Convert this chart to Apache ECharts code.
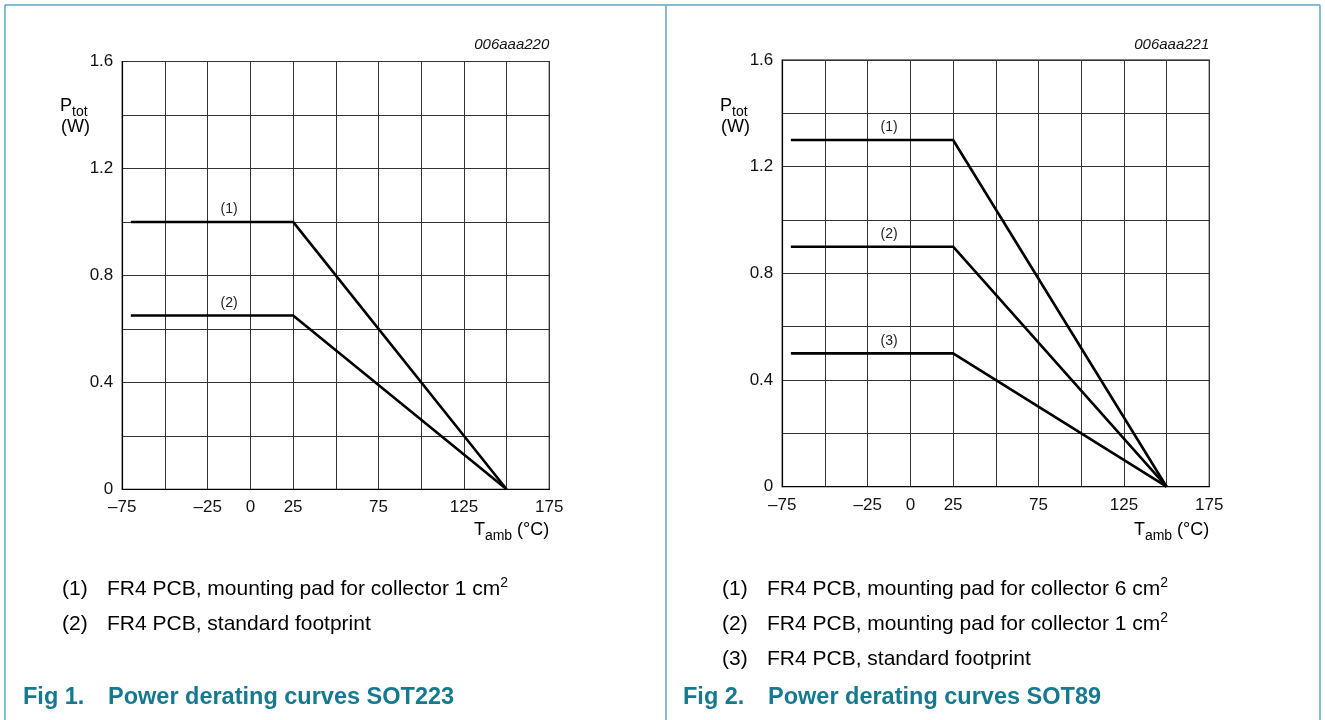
<!DOCTYPE html>
<html><head><meta charset="utf-8">
<script src="https://cdn.jsdelivr.net/npm/echarts/dist/echarts.min.js"></script>
<style>html,body{margin:0;padding:0;background:#fff}#c{width:1325px;height:720px}</style>
</head><body><div id="c"></div>
<script>
// ---- data ----
const temperatures = [-70, 25, 150];            // T_amb (°C)
const sot223Curve1 = [1.0, 1.0, 0];             // P_tot (W)
const sot223Curve2 = [0.65, 0.65, 0];
const sot89Curve1 = [1.3, 1.3, 0];
const sot89Curve2 = [0.9, 0.9, 0];
const sot89Curve3 = [0.5, 0.5, 0];
const xTickLabels = [-75, -25, 0, 25, 75, 125, 175];
const yTickLabels = [0, 0.4, 0.8, 1.2, 1.6];
const sot223Names = ['(1)', '(2)'];
const sot89Names = ['(1)', '(2)', '(3)'];
const sot223Legend = ['FR4 PCB, mounting pad for collector 1 cm', 'FR4 PCB, standard footprint'];
const sot89Legend = ['FR4 PCB, mounting pad for collector 6 cm', 'FR4 PCB, mounting pad for collector 1 cm', 'FR4 PCB, standard footprint'];
const sot223Sup = ['2', ''];
const sot89Sup = ['2', '2', ''];

const LABEL_T = -12.5;
const FONT = 'Liberation Sans, Arial, Helvetica, sans-serif';
const frameColor = '#5ea7bb';
const titleColor = '#17798f';

function fmtX(v) {
  if (!xTickLabels.includes(v)) return '';
  return v < 0 ? '\u2013' + Math.abs(v) : String(v);
}
function fmtY(v) {
  if (!yTickLabels.some(t => Math.abs(t - v) < 1e-6)) return '';
  return Math.abs(v) < 1e-9 ? '0' : v.toFixed(1);
}

function xAxis(gi) {
  return {
    type: 'value', gridIndex: gi, min: -75, max: 175, interval: 25,
    axisLine: { show: true, onZero: false, lineStyle: { color: '#000', width: 1.2 } },
    axisTick: { show: false },
    splitLine: { show: true, lineStyle: { color: '#333', width: 1 } },
    axisLabel: { formatter: fmtX, fontSize: 17, color: '#111', fontFamily: FONT, margin: 10 }
  };
}
function yAxis(gi) {
  return {
    type: 'value', gridIndex: gi, min: 0, max: 1.6, interval: 0.2,
    axisLine: { show: true, onZero: false, lineStyle: { color: '#000', width: 1.2 } },
    axisTick: { show: false },
    splitLine: { show: true, lineStyle: { color: '#333', width: 1 } },
    axisLabel: { formatter: fmtY, fontSize: 17, color: '#111', fontFamily: FONT, margin: 9 }
  };
}
function curve(gi, values, name) {
  return {
    type: 'line', xAxisIndex: gi, yAxisIndex: gi, name: name,
    data: temperatures.map((t, i) => [t, values[i]]),
    symbol: 'none', silent: true, animation: false,
    lineStyle: { color: '#000', width: 2.6 },
    markPoint: {
      symbol: 'circle', symbolSize: 1, itemStyle: { color: 'rgba(0,0,0,0)' },
      label: { show: true, formatter: name, position: 'top', distance: 5, fontSize: 14, color: '#222', fontFamily: FONT },
      data: [{ coord: [LABEL_T, values[0]] }]
    }
  };
}

const graphics = [];
function line(x1, y1, x2, y2) {
  graphics.push({ type: 'line', shape: { x1, y1, x2, y2 }, style: { stroke: frameColor, lineWidth: 1.5 }, silent: true });
}
line(5, 5, 1320, 5); line(5, 5, 5, 720); line(666, 5, 666, 720); line(1320, 5, 1320, 720);

function txt(x, y, text, extra) {
  graphics.push({ type: 'text', x, y, silent: true,
    style: Object.assign({ text, fill: '#111', font: '17px ' + FONT, verticalAlign: 'middle', align: 'left' }, extra || {}) });
}
const richSub = {
  m: { fontSize: 18, fontFamily: FONT, color: '#111', lineHeight: 26, verticalAlign: 'middle' },
  s: { fontSize: 14, fontFamily: FONT, color: '#111', lineHeight: 14, verticalAlign: 'bottom' },
  u: { fontSize: 14, fontFamily: FONT, color: '#111', lineHeight: 14, verticalAlign: 'top' },
  l: { fontSize: 21, fontFamily: FONT, color: '#111', lineHeight: 26, verticalAlign: 'middle' }
};
function richTxt(x, y, text, align) {
  graphics.push({ type: 'text', x, y, silent: true,
    style: { text, rich: richSub, verticalAlign: 'middle', align: align || 'left' } });
}

// panel texts
const panels = [
  { dx: 0, plotRight: 549.3, code: '006aaa220', names: sot223Names, legend: sot223Legend, sup: sot223Sup, title: 'Power derating curves SOT223', fig: 'Fig 1.' },
  { dx: 660, plotRight: 1209.3, code: '006aaa221', names: sot89Names, legend: sot89Legend, sup: sot89Sup, title: 'Power derating curves SOT89', fig: 'Fig 2.' }
];
panels.forEach(p => {
  txt(p.plotRight, 45, p.code, { align: 'right', font: 'italic 15px ' + FONT });
  richTxt(60 + p.dx, 106, '{m|P}{s|tot}');
  richTxt(61 + p.dx, 127, '{m|(W)}');
  richTxt(p.plotRight, 530, '{m|T}{s|amb}{m| (°C)}', 'right');
  p.legend.forEach((t, i) => {
    const y = 589 + i * 35;
    richTxt(62 + p.dx, y, '{l|(' + (i + 1) + ')}');
    richTxt(107 + p.dx, y, '{l|' + t + '}' + (p.sup[i] ? '{u|' + p.sup[i] + '}' : ''));
  });
  txt(23 + p.dx, 698, p.fig, { fill: titleColor, font: 'bold 23.5px ' + FONT });
  txt(108 + p.dx, 698, p.title, { fill: titleColor, font: 'bold 23.5px ' + FONT });
});

const chart = echarts.init(document.getElementById('c'));
chart.setOption({
  animation: false,
  backgroundColor: '#fff',
  grid: [
    { left: 122.3, top: 61.5, width: 427, height: 427.8, show: true, borderColor: '#000', borderWidth: 1.2 },
    { left: 782.3, top: 60, width: 427, height: 426.7, show: true, borderColor: '#000', borderWidth: 1.2 }
  ],
  xAxis: [xAxis(0), xAxis(1)],
  yAxis: [yAxis(0), yAxis(1)],
  series: [
    curve(0, sot223Curve1, sot223Names[0]),
    curve(0, sot223Curve2, sot223Names[1]),
    curve(1, sot89Curve1, sot89Names[0]),
    curve(1, sot89Curve2, sot89Names[1]),
    curve(1, sot89Curve3, sot89Names[2])
  ],
  graphic: graphics
});
</script></body></html>
